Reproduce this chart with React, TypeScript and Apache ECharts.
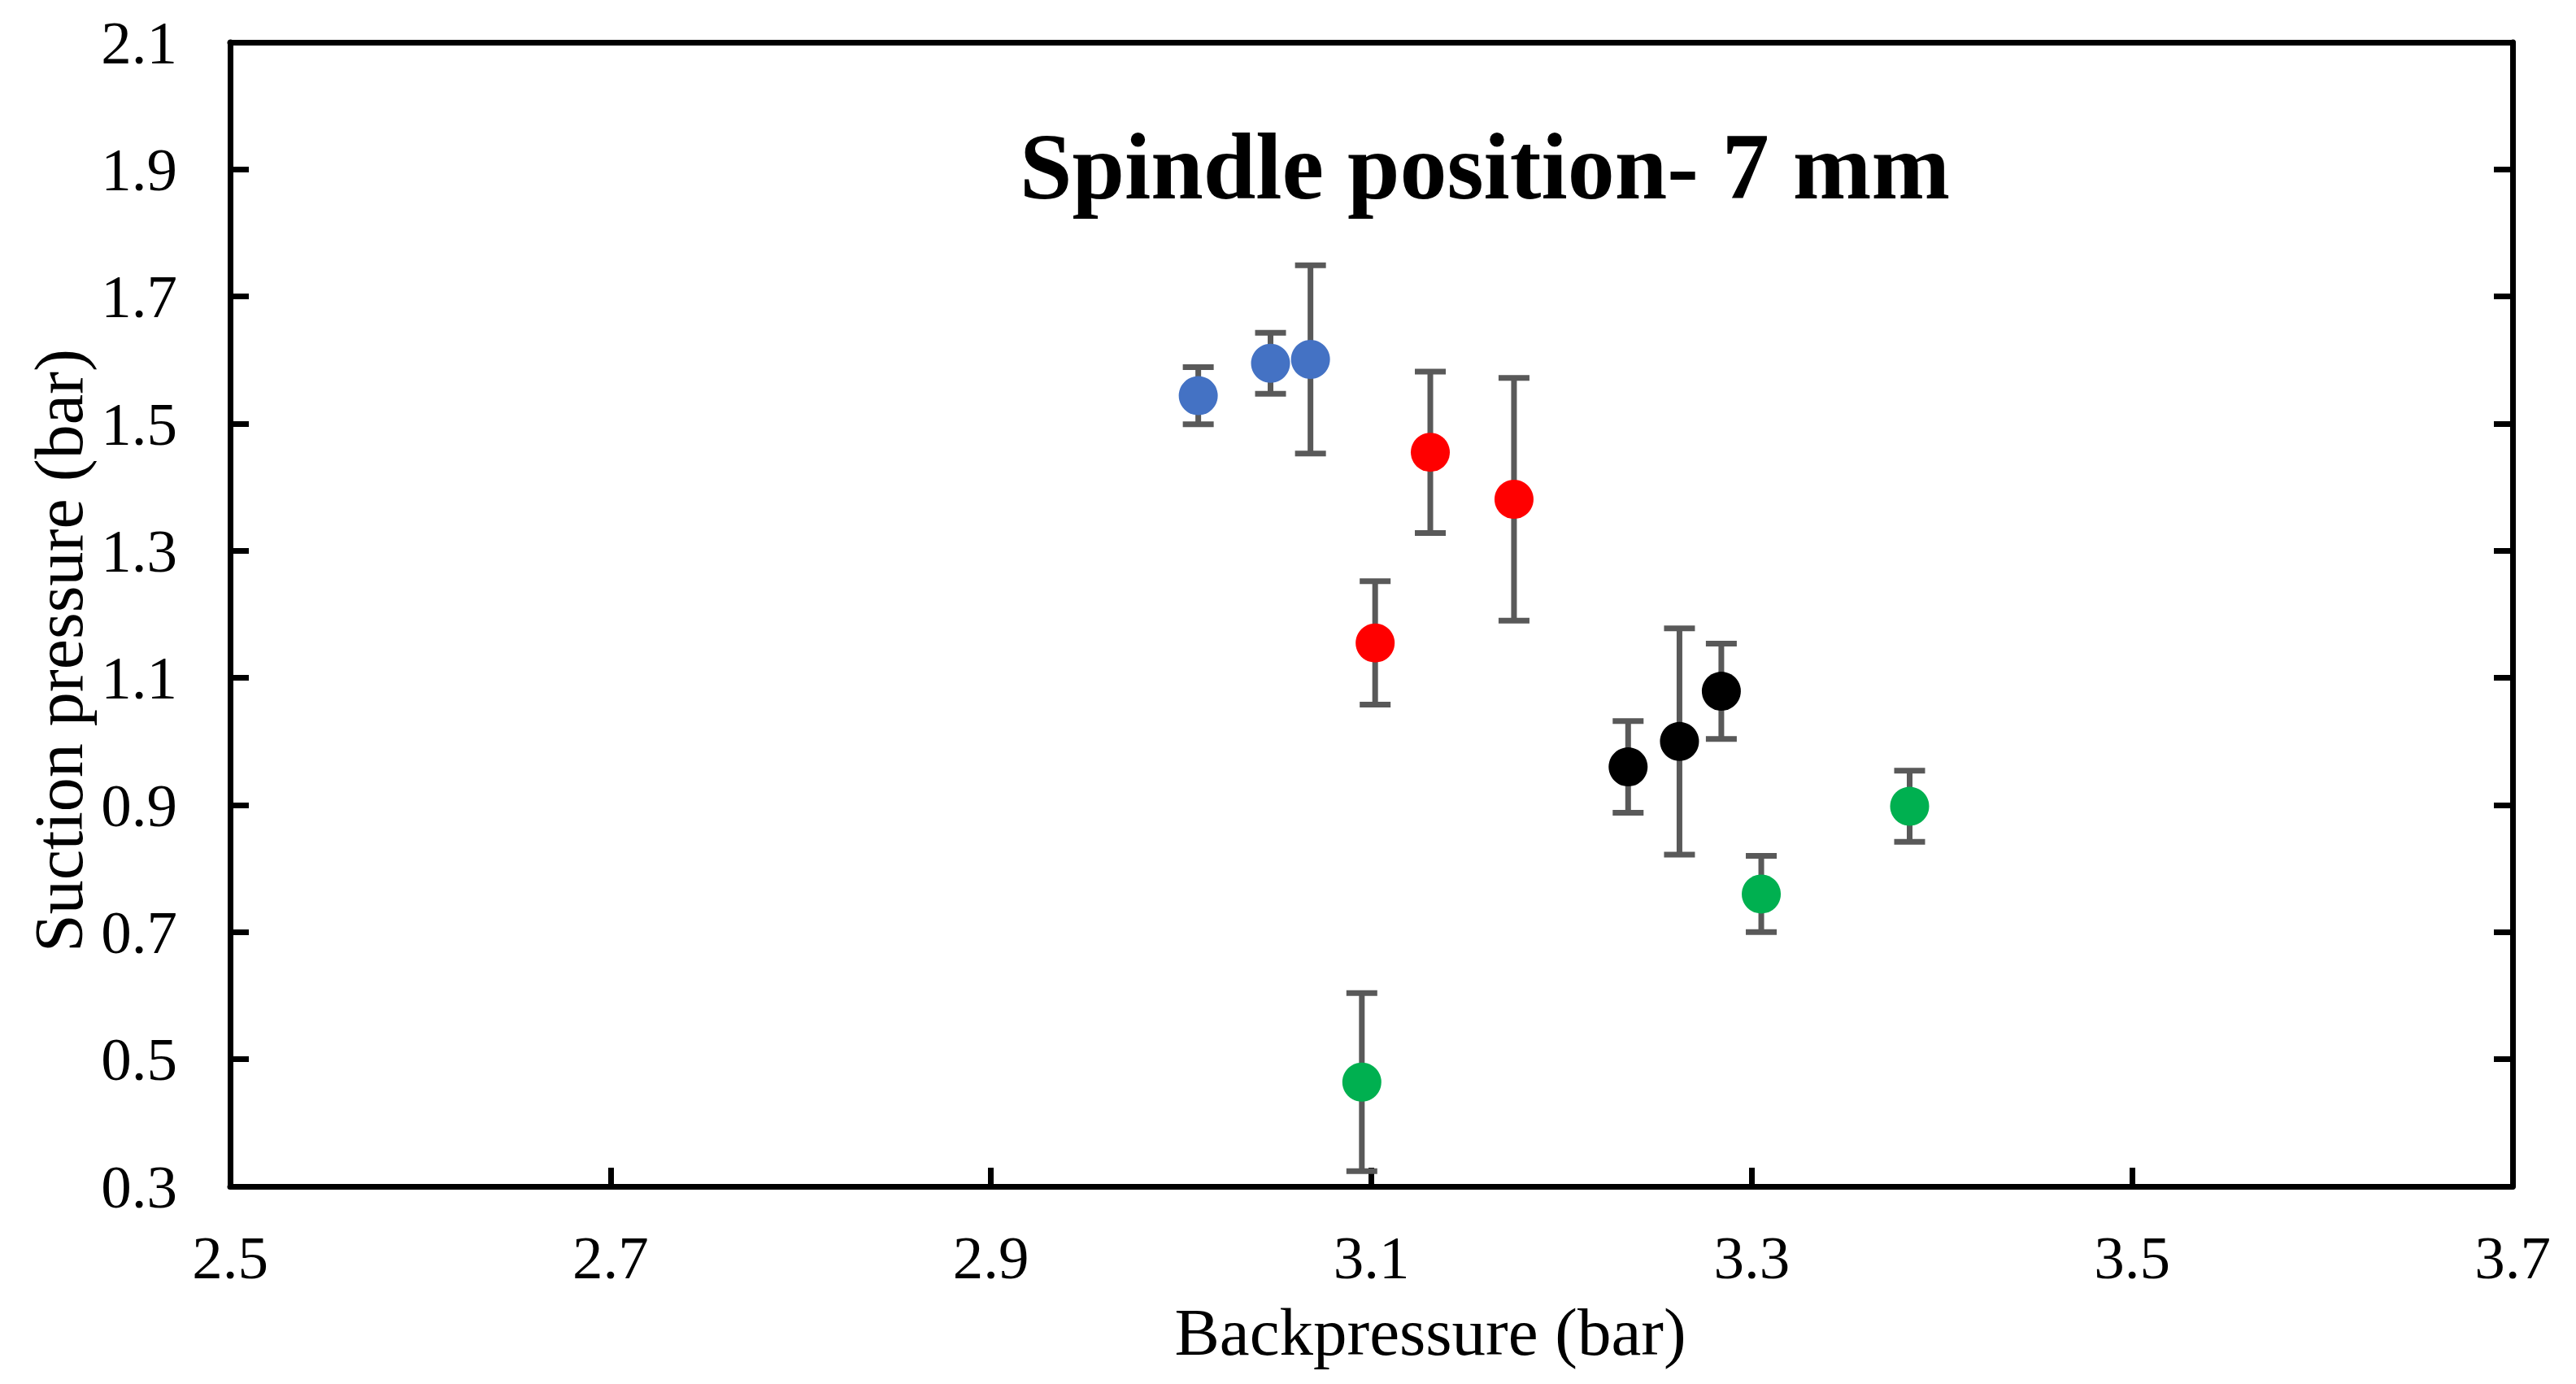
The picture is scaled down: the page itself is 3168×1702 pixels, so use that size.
import React, { useEffect, useRef } from "react";
import * as echarts from "echarts";

// tick positions / labels
const xTicks = [2.5, 2.7, 2.9, 3.1, 3.3, 3.5, 3.7];
const yTicks = [0.3, 0.5, 0.7, 0.9, 1.1, 1.3, 1.5, 1.7, 1.9, 2.1];

// backpressure, suction pressure and error (+/-) per group
const blueX = [3.009, 3.047, 3.068];
const blueY = [1.544, 1.595, 1.601];
const blueErr = [0.045, 0.048, 0.148];

const redX = [3.102, 3.131, 3.175];
const redY = [1.155, 1.455, 1.381];
const redErr = [0.097, 0.127, 0.191];

const blackX = [3.235, 3.262, 3.284];
const blackY = [0.96, 1.0, 1.079];
const blackErr = [0.072, 0.178, 0.075];

const greenX = [3.095, 3.305, 3.383];
const greenY = [0.464, 0.76, 0.898];
const greenErr = [0.14, 0.06, 0.056];

const FONT = '"Liberation Serif", "Times New Roman", serif';
const ERR_COLOR = "#595959";
const CAP_HALF = 19;

const groups = [
  { name: "blue", color: "#4472C4", xs: blueX, ys: blueY, errs: blueErr },
  { name: "red", color: "#FF0000", xs: redX, ys: redY, errs: redErr },
  { name: "black", color: "#000000", xs: blackX, ys: blackY, errs: blackErr },
  { name: "green", color: "#00B050", xs: greenX, ys: greenY, errs: greenErr },
];

const errorBarItem = (params: any, api: any) => {
  const x = api.value(0);
  const y = api.value(1);
  const e = api.value(2);
  const top = api.coord([x, y + e]);
  const bot = api.coord([x, y - e]);
  const style = { stroke: ERR_COLOR, lineWidth: 7, fill: "none" };
  return {
    type: "group",
    children: [
      { type: "line", shape: { x1: top[0], y1: top[1], x2: bot[0], y2: bot[1] }, style },
      { type: "line", shape: { x1: top[0] - CAP_HALF, y1: top[1], x2: top[0] + CAP_HALF, y2: top[1] }, style },
      { type: "line", shape: { x1: bot[0] - CAP_HALF, y1: bot[1], x2: bot[0] + CAP_HALF, y2: bot[1] }, style },
    ],
  };
};

const App: React.FC = () => {
  const chartRef = useRef<HTMLDivElement>(null);

  useEffect(() => {
    document.body.style.margin = "0";
    const chart = echarts.init(chartRef.current, null, { renderer: "svg" });

    const errorSeries = groups.map((g) => ({
      name: g.name + " error",
      type: "custom",
      renderItem: errorBarItem,
      data: g.xs.map((x, i) => [x, g.ys[i], g.errs[i]]),
      encode: { x: 0, y: 1 },
      clip: false,
      z: 2,
    }));

    const pointSeries = groups.map((g) => ({
      name: g.name,
      type: "scatter",
      symbol: "circle",
      symbolSize: 48,
      itemStyle: { color: g.color, opacity: 1 },
      data: g.xs.map((x, i) => [x, g.ys[i]]),
      z: 3,
    }));

    const axisLine = { show: true, lineStyle: { color: "#000", width: 7 } };

    chart.setOption({
      animation: false,
      backgroundColor: "#fff",
      grid: { left: 283, right: 78, top: 52, bottom: 243 },
      xAxis: [
        {
          type: "value",
          min: 2.5,
          max: 3.7,
          axisLine,
          axisTick: {
            show: true,
            inside: true,
            length: 23,
            customValues: xTicks,
            lineStyle: { color: "#000", width: 7 },
          },
          axisLabel: {
            customValues: xTicks,
            formatter: (v: number) => v.toFixed(1),
            fontFamily: FONT,
            fontSize: 75,
            color: "#000",
            margin: 50,
          },
          splitLine: { show: false },
        },
        {
          type: "value",
          position: "top",
          min: 2.5,
          max: 3.7,
          axisLine,
          axisTick: { show: false },
          axisLabel: { show: false },
          splitLine: { show: false },
        },
      ],
      yAxis: [
        {
          type: "value",
          min: 0.3,
          max: 2.1,
          axisLine,
          axisTick: {
            show: true,
            inside: true,
            length: 23,
            customValues: yTicks,
            lineStyle: { color: "#000", width: 7 },
          },
          axisLabel: {
            customValues: yTicks,
            formatter: (v: number) => v.toFixed(1),
            fontFamily: FONT,
            fontSize: 75,
            color: "#000",
            margin: 65,
          },
          splitLine: { show: false },
        },
        {
          type: "value",
          position: "right",
          min: 0.3,
          max: 2.1,
          axisLine,
          axisTick: {
            show: true,
            inside: true,
            length: 23,
            customValues: yTicks,
            lineStyle: { color: "#000", width: 7 },
          },
          axisLabel: { show: false },
          splitLine: { show: false },
        },
      ],
      graphic: [
        {
          type: "text",
          x: 1826,
          y: 205,
          style: {
            text: "Spindle position- 7 mm",
            font: `bold 116px ${FONT}`,
            fill: "#000",
            textAlign: "center",
            textVerticalAlign: "middle",
          },
        },
        {
          type: "text",
          x: 1759,
          y: 1638,
          style: {
            text: "Backpressure (bar)",
            font: `83px ${FONT}`,
            fill: "#000",
            textAlign: "center",
            textVerticalAlign: "middle",
          },
        },
        {
          type: "text",
          x: 72,
          y: 800,
          rotation: Math.PI / 2,
          style: {
            text: "Suction pressure (bar)",
            font: `84px ${FONT}`,
            fill: "#000",
            textAlign: "center",
            textVerticalAlign: "middle",
          },
        },
      ],
      series: [...errorSeries, ...pointSeries],
    });

    return () => {
      chart.dispose();
    };
  }, []);

  return <div ref={chartRef} style={{ width: "3168px", height: "1702px" }}></div>;
};

export default App;
